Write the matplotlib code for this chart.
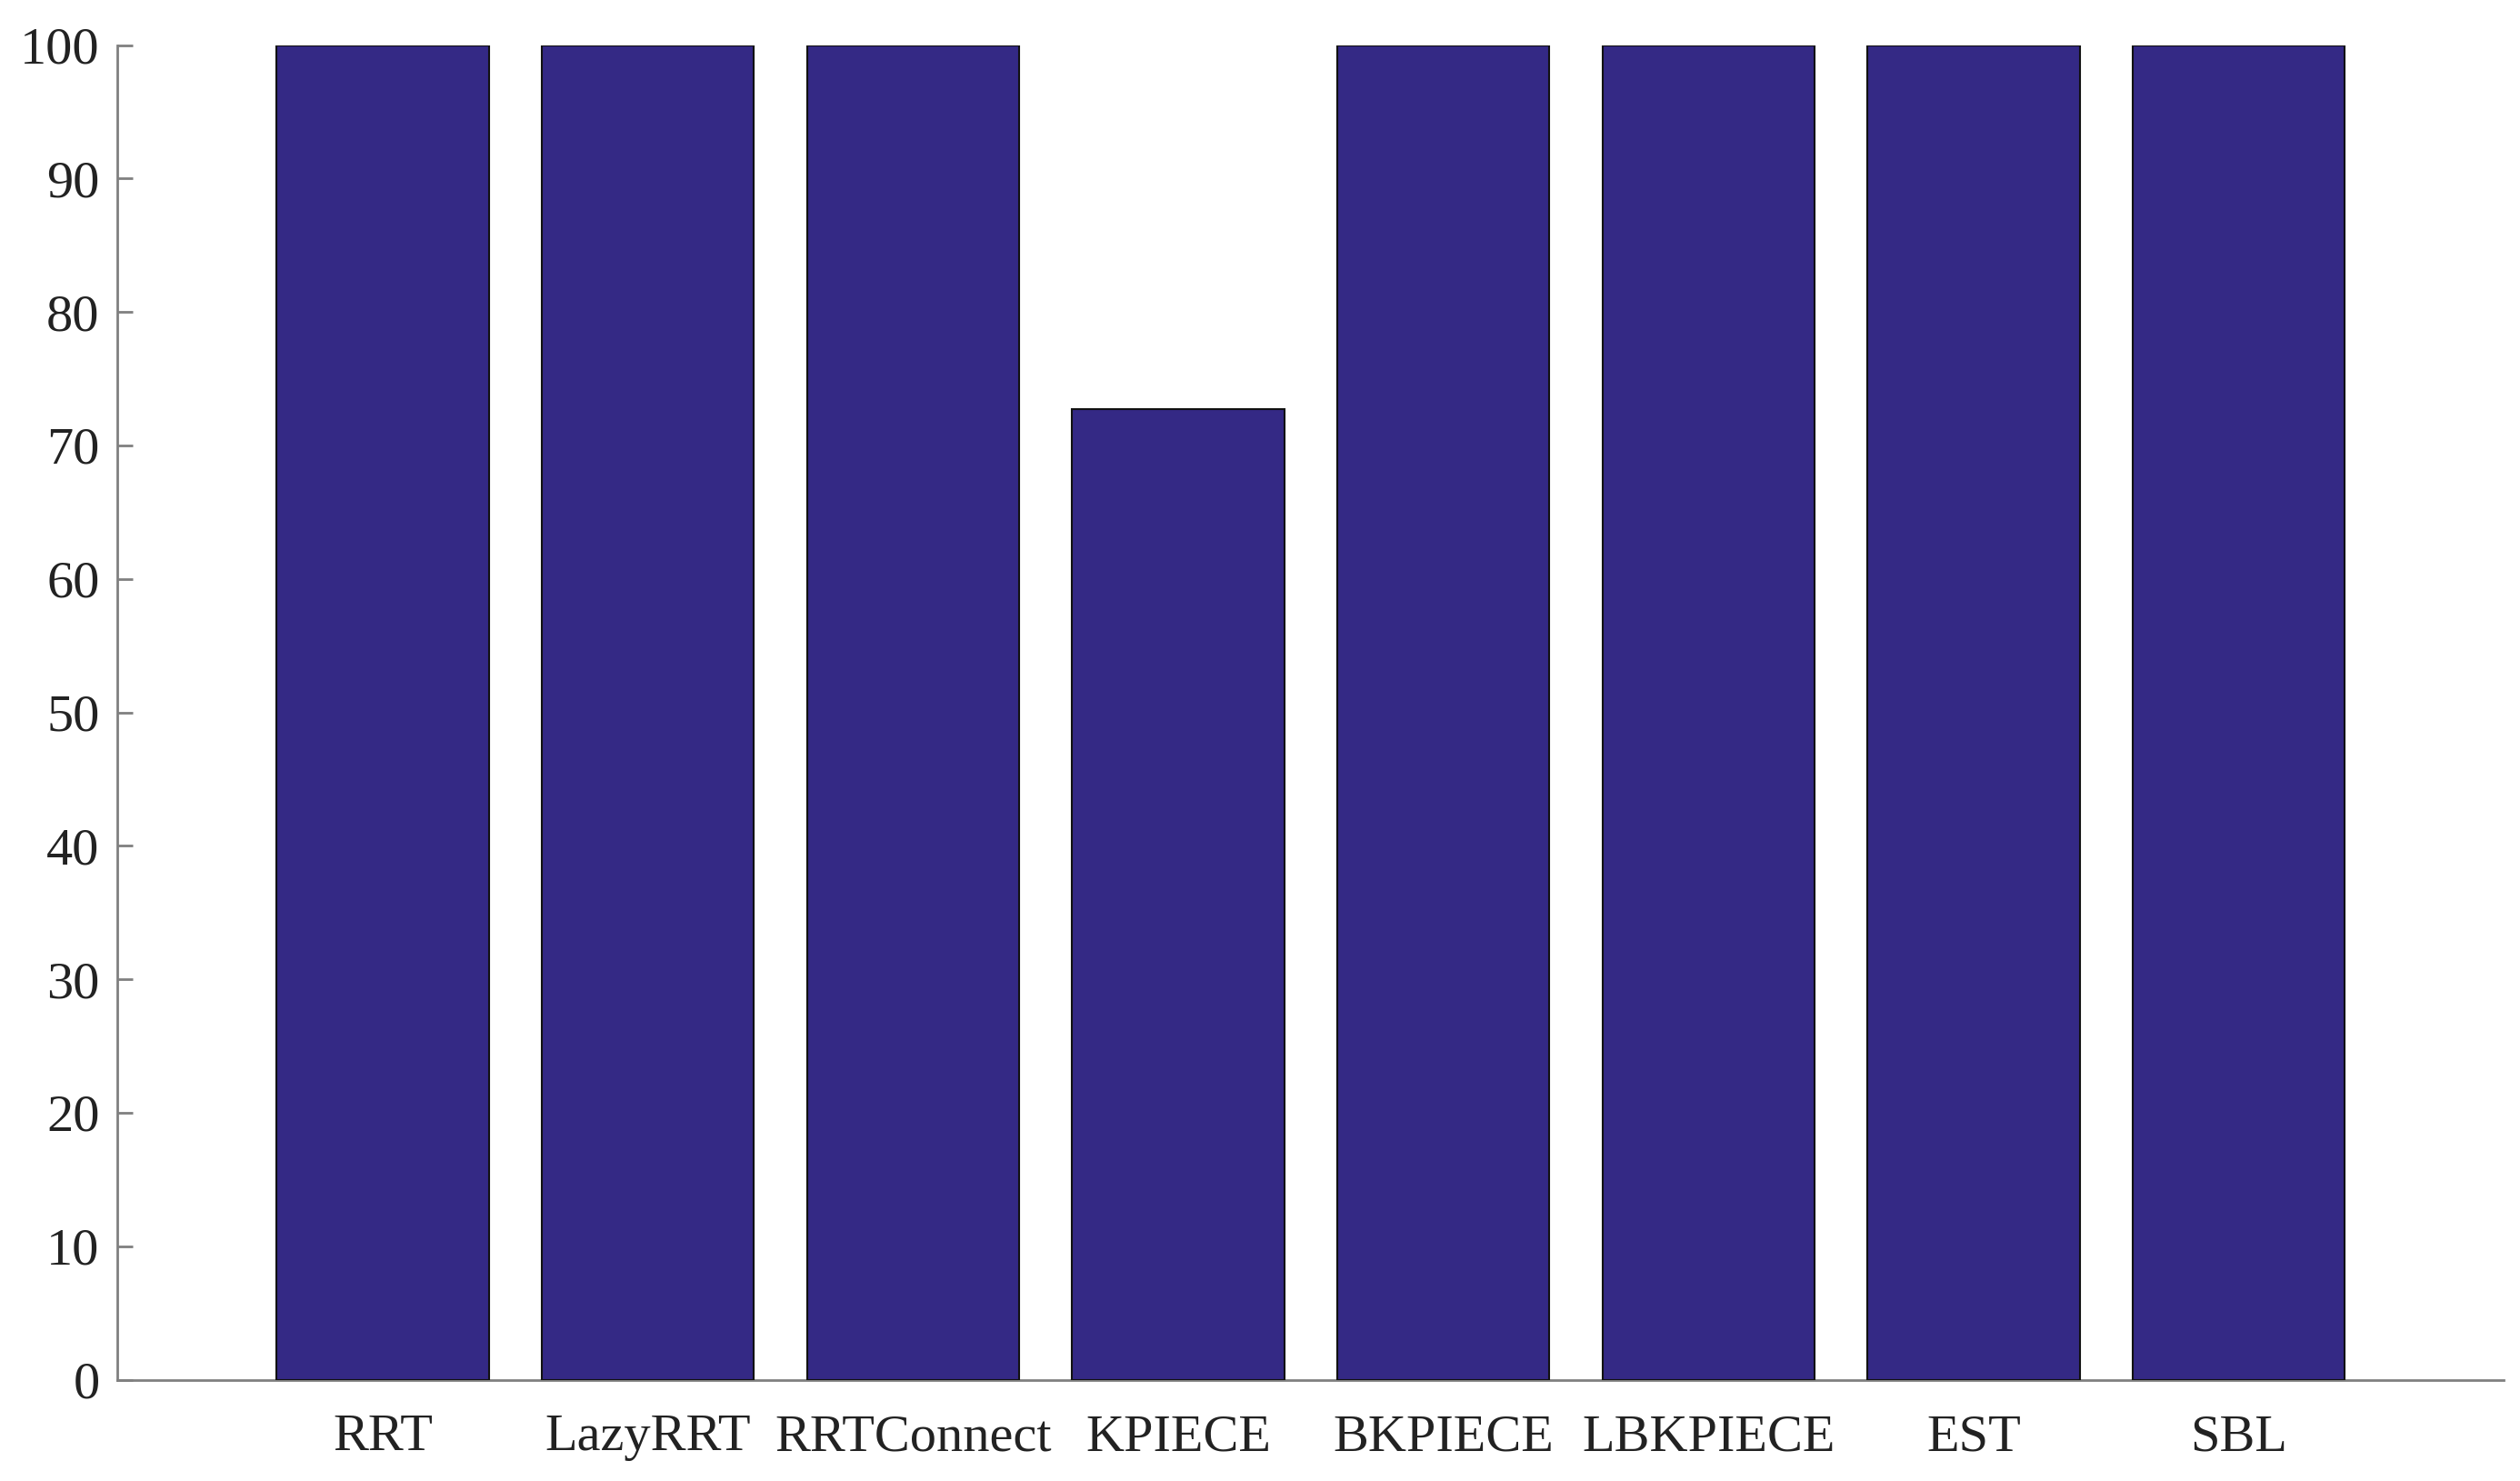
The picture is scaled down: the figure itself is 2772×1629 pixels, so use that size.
import matplotlib
matplotlib.use("Agg")
import matplotlib.pyplot as plt

# Dados do gráfico
planners = ["RRT", "LazyRRT", "RRTConnect", "KPIECE", "BKPIECE", "LBKPIECE", "EST", "SBL"]
success_rate = [100, 100, 100, 72.7, 100, 100, 100, 100]
y_ticks = [0, 10, 20, 30, 40, 50, 60, 70, 80, 90, 100]

plt.rcParams["font.family"] = ["Liberation Serif", "DejaVu Serif"]

fig = plt.figure(figsize=(27.72, 16.29), dpi=100)
ax = fig.add_axes([0.0466, 0.0684, 0.947, 0.9012])

positions = list(range(1, len(planners) + 1))
ax.bar(positions, success_rate, width=0.8, color="#342985",
       edgecolor="#111111", linewidth=1.5, zorder=3)

ax.set_xlim(0, 9)
ax.set_ylim(0, 100)
ax.set_xticks(positions)
ax.set_xticklabels(planners)
ax.set_yticks(y_ticks)

for side in ["top", "right"]:
    ax.spines[side].set_visible(False)
for side in ["left", "bottom"]:
    ax.spines[side].set_color("#808080")
    ax.spines[side].set_linewidth(2)

ax.tick_params(axis="y", direction="in", length=12, width=2, color="#808080",
               labelsize=42, labelcolor="#222222", pad=14)
ax.tick_params(axis="x", length=0, labelsize=42, labelcolor="#222222", pad=27)

fig.savefig("out.png", dpi=100)
